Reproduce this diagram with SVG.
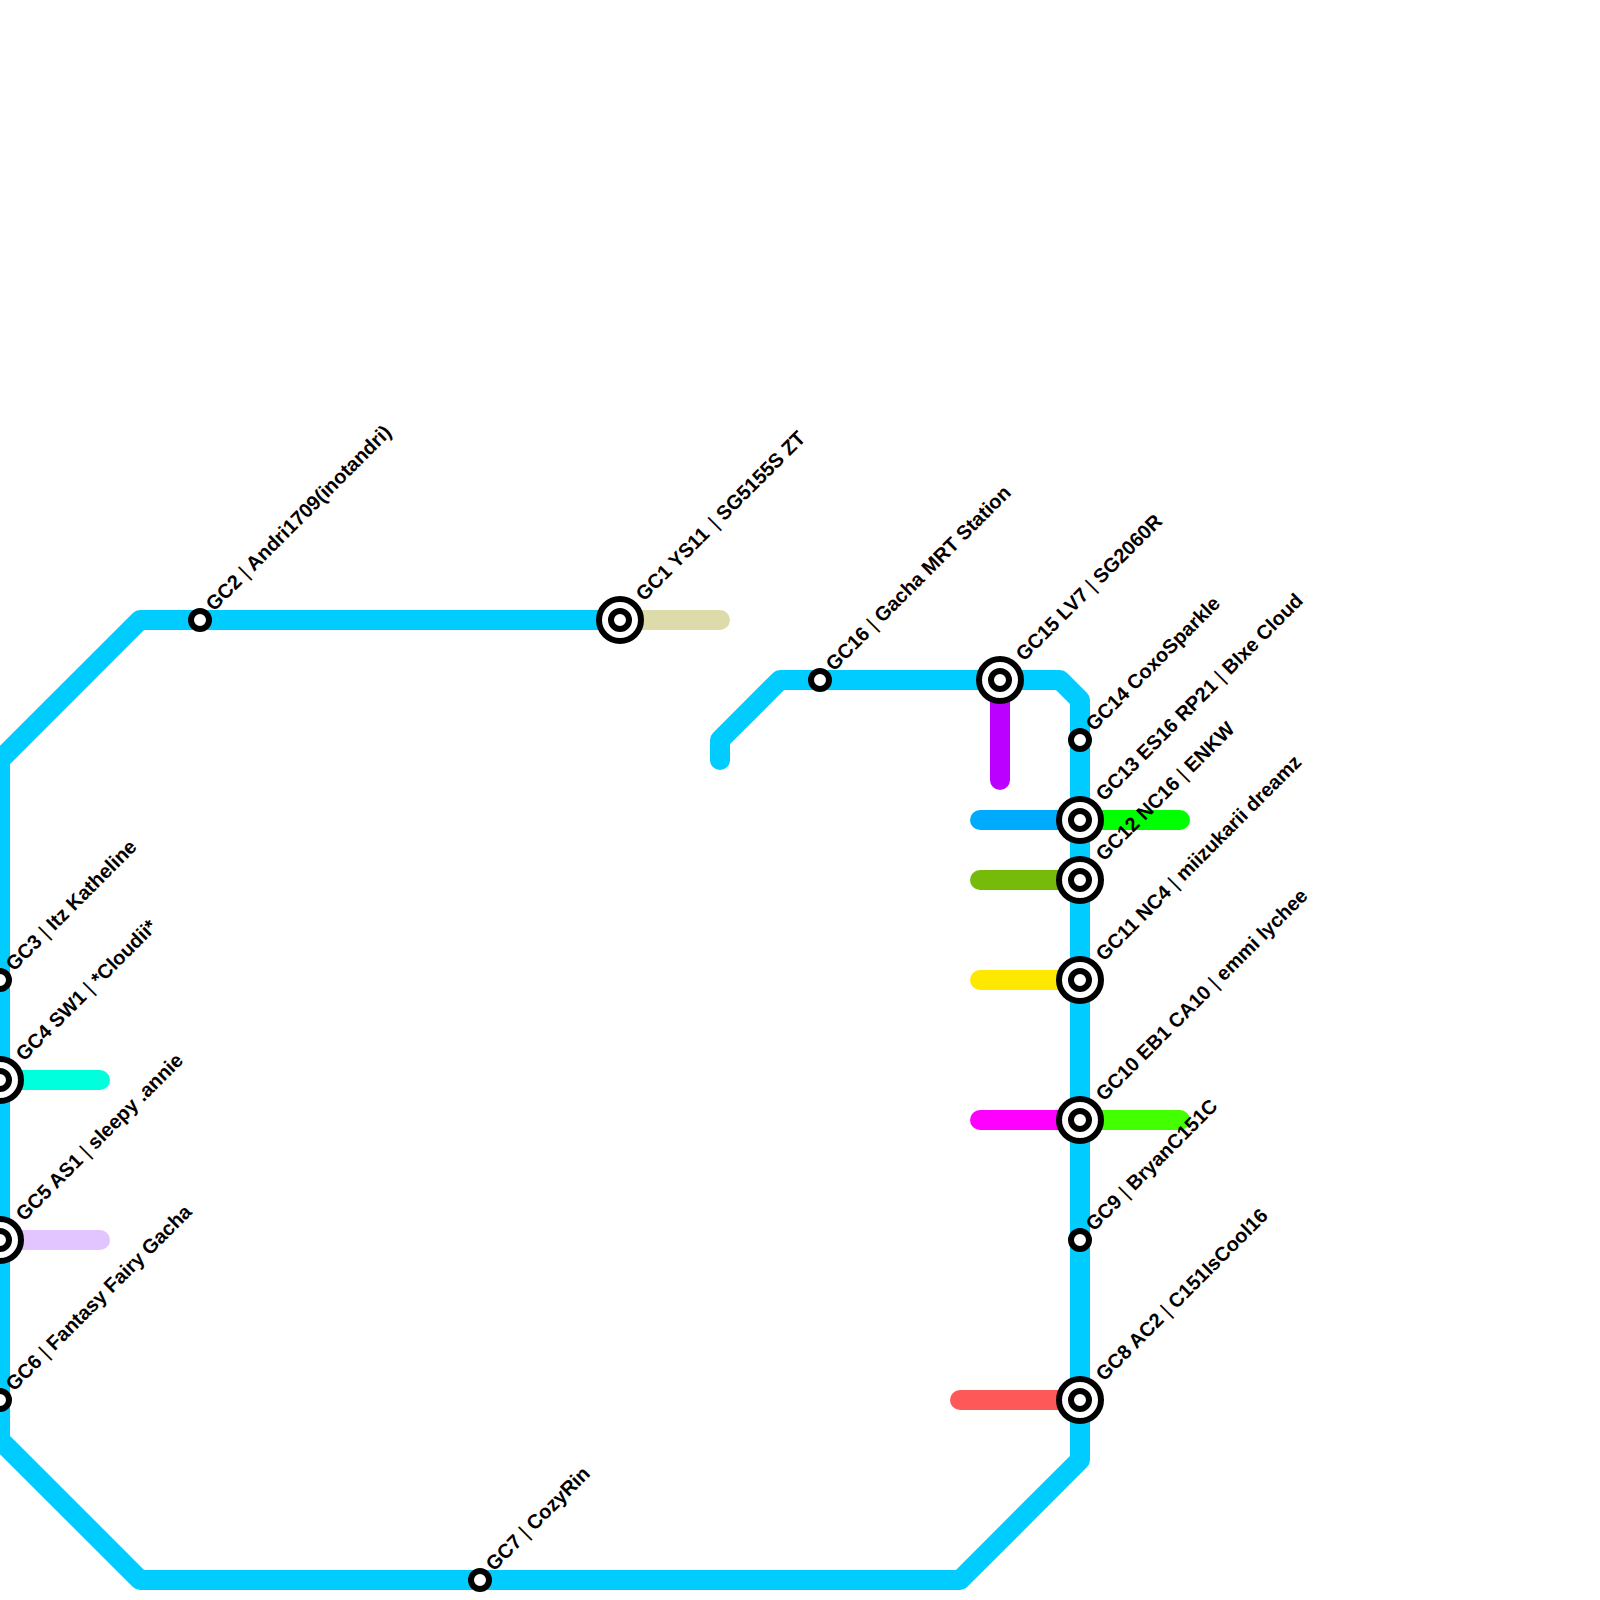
<svg xmlns="http://www.w3.org/2000/svg" width="1600" height="1600" viewBox="0 0 1600 1600">
<style>
.l{fill:none;stroke-width:20;stroke-linecap:round;stroke-linejoin:round}
.o{fill:#fff;stroke:#000;stroke-width:6}
text{font-family:"Liberation Sans",Arial,sans-serif;font-size:20px;font-weight:bold;fill:#000}
.p{font-weight:normal}
</style>
<defs>
<g id="big"><circle class="o" r="21"/><circle class="o" r="9"/></g>
<circle id="small" class="o" r="9"/>
</defs>
<rect width="1600" height="1600" fill="#fff"/>
<g id="connectors">
<path class="l" stroke="#dddbaa" d="M620 620H720"/>
<path class="l" stroke="#bb00ff" d="M1000 680V780"/>
<path class="l" stroke="#00aaff" d="M980 820H1080"/>
<path class="l" stroke="#00ff00" d="M1080 820H1180"/>
<path class="l" stroke="#77bb0a" d="M980 880H1080"/>
<path class="l" stroke="#ffe800" d="M980 980H1080"/>
<path class="l" stroke="#ff00ff" d="M980 1120H1080"/>
<path class="l" stroke="#44ff00" d="M1080 1120H1180"/>
<path class="l" stroke="#ff5858" d="M960 1400H1080"/>
<path class="l" stroke="#00ffdd" d="M0 1080H100"/>
<path class="l" stroke="#e2c4ff" d="M0 1240H100"/>
<path class="l" stroke="#00ccff" d="M720 760V740L780 680H1060L1080 700V1460L960 1580H140L0 1440V760L140 620H620"/>
</g>
<g id="GC1"><use href="#big" x="620" y="620"/><text transform="translate(644 602) rotate(-45)">GC1 YS11 <tspan class="p" dx="3">|</tspan> SG5155S ZT</text></g>
<g id="GC2"><use href="#small" x="200" y="620"/><text transform="translate(214 612) rotate(-45)">GC2 <tspan class="p">|</tspan> Andri1709(inotandri)</text></g>
<g id="GC3"><use href="#small" x="0" y="980"/><text transform="translate(14 972) rotate(-45)">GC3 <tspan class="p">|</tspan> Itz Katheline</text></g>
<g id="GC4"><use href="#big" x="0" y="1080"/><text transform="translate(24 1062) rotate(-45)">GC4 SW1 <tspan class="p">|</tspan> *Cloudii*</text></g>
<g id="GC5"><use href="#big" x="0" y="1240"/><text transform="translate(24 1222) rotate(-45)">GC5 AS1 <tspan class="p">|</tspan> sleepy .annie</text></g>
<g id="GC6"><use href="#small" x="0" y="1400"/><text transform="translate(14 1392) rotate(-45)">GC6 <tspan class="p">|</tspan> Fantasy Fairy Gacha</text></g>
<g id="GC7"><use href="#small" x="480" y="1580"/><text transform="translate(494 1572) rotate(-45)">GC7 <tspan class="p">|</tspan> CozyRin</text></g>
<g id="GC8"><use href="#big" x="1080" y="1400"/><text transform="translate(1104 1382) rotate(-45)">GC8 AC2 <tspan class="p">|</tspan> C151IsCool16</text></g>
<g id="GC9"><use href="#small" x="1080" y="1240"/><text transform="translate(1094 1232) rotate(-45)">GC9 <tspan class="p">|</tspan> BryanC151C</text></g>
<g id="GC10"><use href="#big" x="1080" y="1120"/><text transform="translate(1104 1102) rotate(-45)">GC10 EB1 CA10 <tspan class="p">|</tspan> emmi lychee</text></g>
<g id="GC11"><use href="#big" x="1080" y="980"/><text transform="translate(1104 962) rotate(-45)">GC11 NC4 <tspan class="p">|</tspan> miizukarii dreamz</text></g>
<g id="GC12"><use href="#big" x="1080" y="880"/><text transform="translate(1104 862) rotate(-45)">GC12 NC16 <tspan class="p">|</tspan> ENKW</text></g>
<g id="GC13"><use href="#big" x="1080" y="820"/><text transform="translate(1104 802) rotate(-45)">GC13 ES16 RP21 <tspan class="p">|</tspan> BIxe Cloud</text></g>
<g id="GC14"><use href="#small" x="1080" y="740"/><text transform="translate(1094 732) rotate(-45)">GC14 CoxoSparkle</text></g>
<g id="GC15"><use href="#big" x="1000" y="680"/><text transform="translate(1024 662) rotate(-45)">GC15 LV7 <tspan class="p">|</tspan> SG2060R</text></g>
<g id="GC16"><use href="#small" x="820" y="680"/><text transform="translate(834 672) rotate(-45)">GC16 <tspan class="p">|</tspan> Gacha MRT Station</text></g>
</svg>
